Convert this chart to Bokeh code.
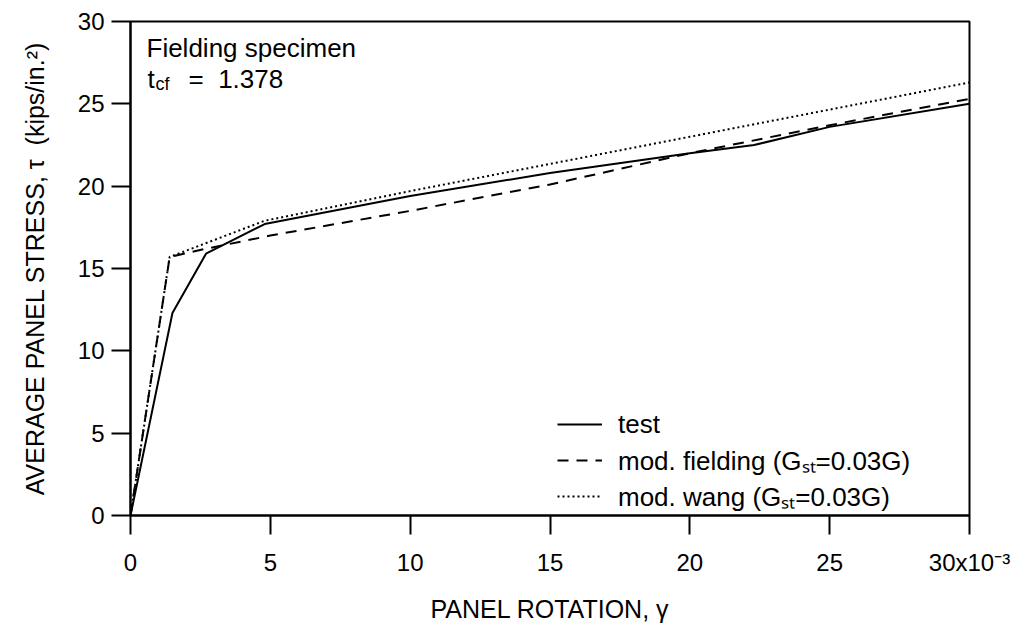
from bokeh.plotting import figure
from bokeh.models import Range1d, FixedTicker, Legend, LegendItem, Label
from bokeh.embed import file_html
from bokeh.resources import INLINE

# data (rotation in rad, stress in kips/in.^2)
test_x = [0.0, 0.0015, 0.0027, 0.0048, 0.010, 0.015, 0.020, 0.0223, 0.025, 0.030]
test_y = [0.0, 12.3, 15.9, 17.7, 19.4, 20.8, 22.0, 22.5, 23.6, 25.0]
field_x = [0.0, 0.0014, 0.0027, 0.005, 0.010, 0.015, 0.020, 0.025, 0.030]
field_y = [0.0, 15.7, 16.2, 17.0, 18.5, 20.1, 22.0, 23.7, 25.3]
wang_x = [0.0, 0.0014, 0.0048, 0.010, 0.020, 0.030]
wang_y = [0.0, 15.7, 17.9, 19.7, 23.0, 26.3]
x_ticks = [0.0, 0.005, 0.010, 0.015, 0.020, 0.025, 0.030]
x_tick_labels = ["0", "5", "10", "15", "20", "25", "30x10\u207b\u00b3"]
y_ticks = [0, 5, 10, 15, 20, 25, 30]

FONT = "Liberation Sans"
p = figure(width=1021, height=625, output_backend="svg", toolbar_location=None,
           x_range=Range1d(0, 0.030), y_range=Range1d(0, 30),
           min_border_left=130, min_border_right=52, min_border_top=21, min_border_bottom=107)
p.grid.visible = False
p.outline_line_color = "black"
p.outline_line_width = 2
p.background_fill_color = "white"
p.border_fill_color = "white"

for ax in (p.xaxis[0], p.yaxis[0]):
    ax.axis_line_width = 2
    ax.major_tick_line_width = 2
    ax.major_tick_in = 0
    ax.major_tick_out = 19
    ax.minor_tick_line_color = None
    ax.major_label_text_font = FONT
    ax.major_label_text_font_size = "24px"
    ax.major_label_text_color = "black"
    ax.axis_label_text_font = FONT
    ax.axis_label_text_font_size = "25px"
    ax.axis_label_text_font_style = "normal"
    ax.axis_label_text_color = "black"

p.xaxis.ticker = FixedTicker(ticks=x_ticks)
p.xaxis.major_label_overrides = {t: l for t, l in zip(x_ticks, x_tick_labels)}
p.xaxis.major_label_standoff = 14
p.xaxis.axis_label = "PANEL ROTATION, \u03b3"
p.xaxis.axis_label_standoff = 16
p.yaxis.ticker = FixedTicker(ticks=y_ticks)
p.yaxis.major_label_standoff = 7
p.yaxis.axis_label = "AVERAGE PANEL STRESS, \u03c4\u00a0 (kips/in.\u00b2)"
p.yaxis.axis_label_standoff = 26

r1 = p.line(test_x, test_y, line_color="black", line_width=2)
r2 = p.line(field_x, field_y, line_color="black", line_width=2, line_dash="11 8")
r3 = p.line(wang_x, wang_y, line_color="black", line_width=2, line_dash="2 3")

legend = Legend(items=[
    LegendItem(label="test", renderers=[r1]),
    LegendItem(label="mod. fielding (G\u209b\u209c=0.03G)", renderers=[r2]),
    LegendItem(label="mod. wang (G\u209b\u209c=0.03G)", renderers=[r3]),
], location=(427, 1))
legend.border_line_color = None
legend.background_fill_alpha = 0
legend.label_text_font = FONT
legend.label_text_font_size = "26px"
legend.label_text_color = "black"
legend.glyph_width = 45
legend.glyph_height = 36
legend.label_height = 36
legend.spacing = 0
legend.margin = 0
legend.padding = 0
legend.label_standoff = 16
p.add_layout(legend)

notes = [
    Label(x=16, y=468, text="Fielding specimen", text_font_size="26px"),
    Label(x=17, y=437, text="t", text_font_size="26px"),
    Label(x=25, y=432, text="cf", text_font_size="18px"),
    Label(x=58, y=437, text="=\u00a0 1.378", text_font_size="26px"),
]
for lab in notes:
    lab.x_units = "screen"
    lab.y_units = "screen"
    lab.text_font = FONT
    lab.text_color = "black"
    lab.text_baseline = "alphabetic"
    p.add_layout(lab)

open("out.html", "w").write(file_html(p, INLINE))
